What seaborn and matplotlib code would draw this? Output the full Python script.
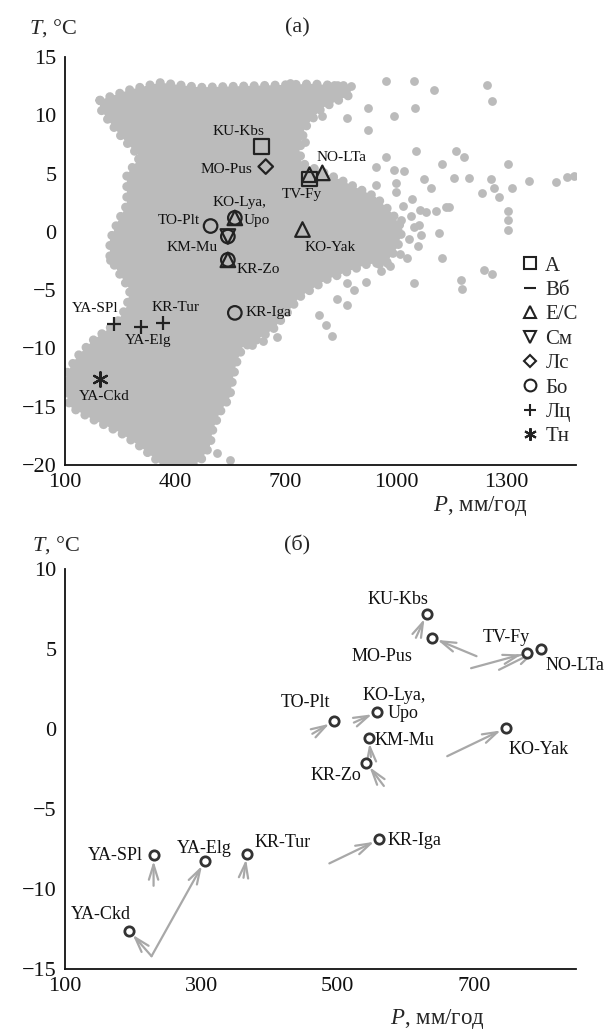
import numpy as np
import pandas as pd
import matplotlib
matplotlib.use("Agg")
import matplotlib.pyplot as plt
from matplotlib.lines import Line2D
import seaborn as sns

# ---------------- data ----------------
# (a) outline of the dense climate cloud (P, T)
cloud_P = [195, 277, 358, 467, 575, 684, 773, 860, 879, 798, 752, 738, 744, 847, 945,
           990, 1018, 1005, 975, 920, 811, 738, 703, 665, 610, 583, 567, 556, 548, 521,
           502, 494, 467, 431, 366, 350, 304, 249, 176, 114, 100, 105, 133, 176, 241,
           268, 277, 244, 222, 222, 244, 268, 268, 304, 255, 217, 195]
cloud_T = [11.3, 12.2, 12.8, 12.4, 12.5, 12.6, 12.7, 12.5, 11.8, 10.6, 8.9, 7.0, 5.9, 4.5, 3.0,
           1.6, 0.2, -1.3, -2.6, -2.8, -4.1, -5.6, -7.0, -8.4, -9.5, -9.9, -11.2, -12.7, -14.2, -15.5,
           -17.0, -18.4, -19.7, -20.2, -20.2, -19.6, -18.4, -17.2, -16.1, -15.0, -13.6, -12.1, -10.7, -9.3, -7.8,
           -6.4, -5.0, -3.4, -2.2, -0.7, 0.9, 2.3, 4.9, 6.4, 8.1, 9.6, 10.6]

# (a) isolated climate points outside the dense cloud
scatter_P = [972, 1050, 1104, 1248, 1262, 833, 855, 879, 773, 798, 925, 1053, 996, 868, 925,
             752, 1056, 974, 1126, 1164, 1186, 1305, 1259, 1200, 1159, 1362, 1436, 1466, 1485,
             947, 996, 1023, 1077, 1096, 1137, 1083, 1110, 1145, 1305, 1305, 1305, 1281, 1235,
             1316, 1267, 1118, 1126, 1064, 1050, 1178, 1181, 1240, 1262, 825, 811, 920, 955,
             977, 887, 866, 792, 839, 866, 676, 638, 610, 548, 513, 711, 304, 271, 222, 108,
             1040, 1050, 1035, 1060, 1020, 1045, 1000, 1012, 985, 960, 1030, 1065, 1000, 945,
             1068, 1015]
scatter_T = [12.9, 12.9, 12.2, 12.6, 11.2, 12.6, 12.6, 12.5, 11.3, 9.9, 10.6, 10.6, 9.9, 9.8, 8.7,
             7.7, 6.9, 6.4, 5.8, 6.9, 6.4, 5.8, 4.5, 4.6, 4.6, 4.4, 4.3, 4.7, 4.8,
             5.6, 5.3, 5.2, 4.5, 3.8, 2.1, 1.7, 1.8, 2.1, 1.8, 1.0, 0.2, 3.0, 3.3,
             3.8, 3.8, -0.1, -2.2, 0.6, -4.4, -4.1, -4.9, -3.3, -3.6, -8.9, -8.0, -4.3, -2.8,
             -2.7, -5.0, -6.3, -7.1, -5.8, -4.4, -9.0, -9.4, -9.7, -19.6, -19.0, 12.8, 8.2, 8.5, -2.4, -12.7,
             1.4, 0.4, -0.6, -1.2, 2.2, 2.8, 3.4, -1.9, -2.9, -3.4, -2.2, 1.9, 4.2, 4.0,
             -0.3, 1.0]

# (a) sites with vegetation class
site_P = [635, 646, 765, 765, 800, 562, 562, 496, 543, 543, 543, 543, 746, 562, 233, 306, 366, 195]
site_T = [7.3, 5.6, 4.55, 4.9, 5.06, 1.2, 1.2, 0.5, -0.4, -0.4, -2.4, -2.4, 0.2, -6.95, -7.9, -8.2, -7.8, -12.6]
site_cls = ["А", "Лс", "А", "Е/С", "Е/С", "Бо", "Е/С", "Бо", "См", "Бо", "Бо", "Е/С", "Е/С", "Бо",
            "Лц", "Лц", "Лц", "Тн"]

classes = ["А", "Вб", "Е/С", "См", "Лс", "Бо", "Лц", "Тн"]

# (a) site labels
lab_a_text = ["KU-Kbs", "MO-Pus", "NO-LTa", "TV-Fy", "KO-Lya,", "Upo", "TO-Plt", "KM-Mu",
              "KO-Yak", "KR-Zo", "KR-Iga", "YA-SPl", "KR-Tur", "YA-Elg", "YA-Ckd"]
lab_a_P = [573, 610, 784, 743, 575, 585, 467, 515, 752, 567, 591, 181, 401, 325, 206]
lab_a_T = [8.6, 5.35, 6.35, 3.2, 2.5, 0.95, 1.0, -1.3, -1.3, -3.2, -6.95, -6.6, -6.5, -9.35, -14.1]
lab_a_ha = ["center", "right", "left", "center", "center", "left", "right", "right",
            "left", "left", "left", "center", "center", "center", "center"]

# (б) site positions
b_names = ["KU-Kbs", "MO-Pus", "TV-Fy", "NO-LTa", "TO-Plt", "KO-Lya", "KM-Mu", "KR-Zo",
           "KO-Yak", "KR-Iga", "YA-SPl", "YA-Elg", "KR-Tur", "YA-Ckd"]
b_P = [631, 639, 778, 798, 495, 558, 546, 542, 747, 561, 230, 305, 367, 194]
b_T = [7.2, 5.7, 4.75, 5.0, 0.5, 1.06, -0.55, -2.1, 0.06, -6.9, -7.9, -8.25, -7.8, -12.6]

# (б) shift arrows: tail (P, T) -> head (P, T)
arr_P0 = [227, 227, 230, 362, 488, 568, 549, 524, 463, 661, 696, 737, 704, 615]
arr_T0 = [-14.2, -14.2, -9.8, -9.3, -8.4, -3.56, -1.75, 0.4, -0.3, -1.7, 3.8, 3.7, 4.55, 5.7]
arr_P1 = [194, 305, 230, 367, 561, 542, 546, 558, 495, 747, 778, 798, 639, 631]
arr_T1 = [-12.6, -8.25, -7.9, -7.8, -6.9, -2.1, -0.55, 1.06, 0.5, 0.06, 4.75, 5.0, 5.7, 7.2]

# (б) labels
lab_b_text = ["KU-Kbs", "MO-Pus", "TV-Fy", "NO-LTa", "KO-Lya,", "Upo", "TO-Plt", "KM-Mu",
              "KO-Yak", "KR-Zo", "KR-Iga", "KR-Tur", "YA-Elg", "YA-SPl", "YA-Ckd"]
lab_b_P = [589, 565, 747, 805, 583, 574, 453, 554, 795, 497, 573, 419, 305, 214, 153]
lab_b_T = [8.1, 4.55, 5.7, 3.94, 2.1, 0.94, 1.63, -0.75, -1.3, -2.9, -7.0, -7.1, -7.45, -7.9, -11.6]
lab_b_ha = ["center", "center", "center", "left", "center", "left", "center", "left",
            "center", "center", "left", "center", "center", "right", "center"]

# ---------------- style ----------------
sns.set_theme(style="white")
plt.rcParams["font.family"] = ["Liberation Serif", "DejaVu Serif"]
plt.rcParams["mathtext.fontset"] = "custom"
plt.rcParams["mathtext.it"] = "Liberation Serif:italic"
plt.rcParams["mathtext.rm"] = "Liberation Serif"

GRAY = "#bbbbbb"
ARROW = "#a8a8a8"

markers = {"А": "s", "Вб": "_", "Е/С": "^", "См": "v", "Лс": "D", "Бо": "o", "Лц": "+", "Тн": (6, 2, 0)}
sizes = {"А": 110, "Вб": 100, "Е/С": 110, "См": 110, "Лс": 55, "Бо": 95, "Лц": 90, "Тн": 110}

fig = plt.figure(figsize=(6.14, 10.32), dpi=100)
ax1 = fig.add_axes([0.10586, 0.54942, 0.83225, 0.39535])
ax2 = fig.add_axes([0.10586, 0.06105, 0.83225, 0.38760])

# ---------- panel (a) ----------
ax1.fill(cloud_P, cloud_T, facecolor=GRAY, edgecolor="none", zorder=1)
# dotted rim so the cloud edge looks made of individual points
ax1.plot(cloud_P + cloud_P[:1], cloud_T + cloud_T[:1], color=GRAY, lw=6.5,
         ls=(0, (0.01, 1.15)), dash_capstyle="round", zorder=1)
sns.scatterplot(x=scatter_P, y=scatter_T, color=GRAY, s=40, linewidth=0, ax=ax1, zorder=1)

sites = pd.DataFrame({"P": site_P, "T": site_T, "cls": site_cls})
for c in classes:
    sub = sites[sites.cls == c]
    if sub.empty:
        continue
    m = markers[c]
    if c in ("Лц", "Тн"):
        sns.scatterplot(data=sub, x="P", y="T", marker=m, s=sizes[c], color="#222222",
                        linewidth=1.6, ax=ax1, zorder=4)
    else:
        sns.scatterplot(data=sub, x="P", y="T", marker=m, s=sizes[c], facecolors="none",
                        edgecolor="#222222", linewidth=1.6, ax=ax1, zorder=4)

for t, p, tt, ha in zip(lab_a_text, lab_a_P, lab_a_T, lab_a_ha):
    ax1.text(p, tt, t, ha=ha, va="center", fontsize=11, color="#111111", zorder=5)

handles = []
for c in classes:
    m = markers[c]
    if c in ("Лц", "Тн", "Вб"):
        h = Line2D([], [], ls="", marker=m, color="#222222", markersize=9, mew=1.5)
    else:
        ms = 6 if c == "Лс" else 8.5
        h = Line2D([], [], ls="", marker=m, markerfacecolor="none", markeredgecolor="#222222",
                   markersize=ms, mew=1.5)
    handles.append(h)
ax1.legend(handles, classes, loc="upper left", bbox_to_anchor=(0.893, 0.512), frameon=False,
           fontsize=15, handlelength=0.8, handletextpad=0.35, labelspacing=0.23,
           borderpad=0, borderaxespad=0)

ax1.set_xlim(100, 1490)
ax1.set_ylim(-20, 15)
ax1.set_xticks([100, 400, 700, 1000, 1300])
ax1.set_yticks([-20, -15, -10, -5, 0, 5, 10, 15])

# ---------- panel (б) ----------
for x0, y0, x1, y1 in zip(arr_P0, arr_T0, arr_P1, arr_T1):
    ax2.annotate("", xy=(x1, y1), xytext=(x0, y0),
                 arrowprops=dict(arrowstyle="->,head_length=0.9,head_width=0.28", color=ARROW,
                                 lw=1.6, shrinkA=0, shrinkB=4), zorder=2)
sns.scatterplot(x=b_P, y=b_T, marker="o", s=45, facecolors="white", edgecolor="#333333",
                linewidth=2.0, ax=ax2, zorder=4)
for t, p, tt, ha in zip(lab_b_text, lab_b_P, lab_b_T, lab_b_ha):
    ax2.text(p, tt, t, ha=ha, va="center", fontsize=13, color="#111111", zorder=5)

ax2.set_xlim(100, 850)
ax2.set_ylim(-15, 10)
ax2.set_xticks([100, 300, 500, 700])
ax2.set_yticks([-15, -10, -5, 0, 5, 10])

for ax in (ax1, ax2):
    ax.set_xlabel("")
    ax.set_ylabel("")
    sns.despine(ax=ax)
    for s in ("left", "bottom"):
        ax.spines[s].set_color("#111111")
        ax.spines[s].set_linewidth(1.3)
    ax.tick_params(direction="in", length=8, width=1.2, color="#111111", labelsize=16,
                   labelcolor="#111111", pad=6)
    ax.set_facecolor("white")

# titles / axis labels
fig.text(29 / 614, 1 - 28 / 1032, "$T$, °C", ha="left", va="center", fontsize=16)
fig.text(297 / 614, 1 - 28 / 1032, "(a)", ha="center", va="center", fontsize=16)
fig.text(480 / 614, 1 - 506 / 1032, "$P$, мм/год", ha="center", va="center", fontsize=16.5)
fig.text(32 / 614, 1 - 545 / 1032, "$T$, °C", ha="left", va="center", fontsize=16)
fig.text(297 / 614, 1 - 545 / 1032, "(б)", ha="center", va="center", fontsize=16)
fig.text(437 / 614, 1 - 1019 / 1032, "$P$, мм/год", ha="center", va="center", fontsize=16.5)

fig.savefig("out.png", dpi=100, facecolor="white")
